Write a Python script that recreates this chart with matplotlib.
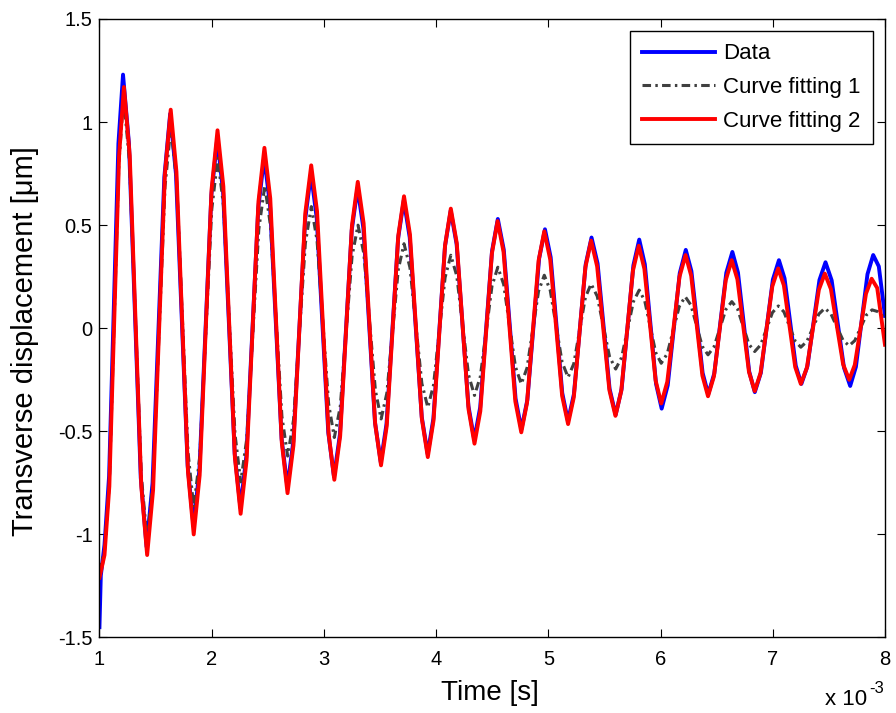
import matplotlib
matplotlib.use('Agg')
import matplotlib.pyplot as plt

plt.rcParams['font.family'] = ['Liberation Sans', 'DejaVu Sans']

# time in units of 1e-3 s
# (per half cycle: extremum, then two points on the flanks)
t_data = [1.0, 1.012, 1.045, 1.086, 1.169,
          1.210, 1.263, 1.368, 1.420, 1.473, 1.578, 1.630, 1.682, 1.786,
          1.838, 1.891, 1.997, 2.050, 2.102, 2.205, 2.256, 2.309, 2.415,
          2.468, 2.520, 2.623, 2.675, 2.728, 2.833, 2.885, 2.936, 3.039,
          3.090, 3.143, 3.248, 3.300, 3.352, 3.455, 3.507, 3.558, 3.661,
          3.712, 3.765, 3.872, 3.925, 3.976, 4.079, 4.130, 4.183, 4.288,
          4.340, 4.393, 4.498, 4.550, 4.603, 4.708, 4.760, 4.813, 4.918,
          4.970, 5.021, 5.124, 5.175, 5.228, 5.333, 5.385, 5.439, 5.546,
          5.600, 5.653, 5.758, 5.810, 5.860, 5.960, 6.010, 6.064, 6.171,
          6.225, 6.275, 6.375, 6.425, 6.479, 6.586, 6.640, 6.690, 6.790,
          6.840, 6.894, 7.001, 7.055, 7.105, 7.205, 7.255, 7.309, 7.416,
          7.470, 7.525, 7.635, 7.690, 7.741, 7.844, 7.895, 7.945, 8.0]
y_data = [-1.45, -1.20, -1.05, -0.716, 0.896,
          1.23, 0.895, -0.725, -1.06, -0.752, 0.732, 1.04, 0.747, -0.667,
          -0.96, -0.685, 0.645, 0.92, 0.658, -0.608, -0.87, -0.621, 0.581,
          0.83, 0.596, -0.536, -0.77, -0.547, 0.527, 0.75, 0.535, -0.505,
          -0.72, -0.515, 0.475, 0.68, 0.485, -0.455, -0.65, -0.464, 0.434,
          0.62, 0.440, -0.430, -0.61, -0.437, 0.397, 0.57, 0.407, -0.377,
          -0.54, -0.383, 0.373, 0.53, 0.381, -0.341, -0.49, -0.348, 0.338,
          0.48, 0.344, -0.314, -0.45, -0.320, 0.310, 0.44, 0.314, -0.294,
          -0.42, -0.295, 0.305, 0.43, 0.310, -0.270, -0.39, -0.277, 0.267,
          0.38, 0.277, -0.217, -0.32, -0.219, 0.269, 0.37, 0.270, -0.210,
          -0.31, -0.216, 0.236, 0.33, 0.242, -0.182, -0.27, -0.184, 0.234,
          0.32, 0.232, -0.192, -0.28, -0.187, 0.262, 0.355, 0.30, 0.06]

t_fit1 = [1.0, 1.045, 1.088, 1.173,
          1.215, 1.268, 1.373, 1.425, 1.478, 1.584, 1.637, 1.688, 1.789,
          1.840, 1.894, 2.001, 2.054, 2.105, 2.208, 2.259, 2.313, 2.420,
          2.473, 2.524, 2.626, 2.677, 2.730, 2.835, 2.888, 2.939, 3.042,
          3.093, 3.146, 3.251, 3.304, 3.356, 3.459, 3.510, 3.561, 3.663,
          3.714, 3.767, 3.873, 3.926, 3.977, 4.080, 4.131, 4.184, 4.289,
          4.342, 4.394, 4.498, 4.550, 4.602, 4.707, 4.759, 4.810, 4.913,
          4.964, 5.017, 5.123, 5.176, 5.227, 5.330, 5.381, 5.436, 5.545,
          5.600, 5.653, 5.758, 5.810, 5.859, 5.957, 6.006, 6.060, 6.167,
          6.220, 6.271, 6.372, 6.423, 6.476, 6.582, 6.635, 6.686, 6.788,
          6.839, 6.892, 6.997, 7.050, 7.100, 7.200, 7.250, 7.304, 7.411,
          7.464, 7.518, 7.626, 7.680, 7.731, 7.834, 7.885, 7.940, 8.0]
y_fit1 = [-1.18, -1.08, -0.758, 0.798,
          1.12, 0.805, -0.715, -1.03, -0.736, 0.686, 0.98, 0.709, -0.599,
          -0.87, -0.622, 0.577, 0.825, 0.595, -0.515, -0.745, -0.535, 0.480,
          0.69, 0.498, -0.428, -0.62, -0.443, 0.413, 0.59, 0.426, -0.366,
          -0.53, -0.379, 0.349, 0.50, 0.362, -0.302, -0.44, -0.315, 0.285,
          0.41, 0.294, -0.268, -0.384, -0.276, 0.246, 0.354, 0.254, -0.226,
          -0.326, -0.235, 0.205, 0.296, 0.213, -0.187, -0.27, -0.193, 0.180,
          0.257, 0.184, -0.165, -0.238, -0.172, 0.149, 0.215, 0.155, -0.137,
          -0.198, -0.142, 0.129, 0.185, 0.133, -0.118, -0.17, -0.123, 0.106,
          0.153, 0.112, -0.088, -0.129, -0.091, 0.091, 0.129, 0.094, -0.078,
          -0.113, -0.081, 0.076, 0.108, 0.079, -0.063, -0.092, -0.064, 0.069,
          0.097, 0.070, -0.058, -0.085, -0.060, 0.064, 0.089, 0.080, 0.048]

t_fit2 = [1.0, 1.045, 1.088, 1.175,
          1.218, 1.270, 1.373, 1.425, 1.478, 1.583, 1.635, 1.686, 1.789,
          1.840, 1.893, 1.999, 2.052, 2.104, 2.207, 2.258, 2.311, 2.417,
          2.470, 2.522, 2.625, 2.676, 2.729, 2.834, 2.887, 2.939, 3.042,
          3.093, 3.145, 3.250, 3.302, 3.354, 3.457, 3.509, 3.560, 3.663,
          3.714, 3.767, 3.873, 3.926, 3.977, 4.080, 4.131, 4.184, 4.289,
          4.342, 4.394, 4.497, 4.548, 4.601, 4.706, 4.759, 4.810, 4.913,
          4.964, 5.017, 5.123, 5.176, 5.227, 5.330, 5.381, 5.435, 5.544,
          5.598, 5.650, 5.754, 5.806, 5.856, 5.956, 6.006, 6.060, 6.169,
          6.223, 6.273, 6.373, 6.423, 6.476, 6.581, 6.634, 6.685, 6.788,
          6.839, 6.891, 6.996, 7.048, 7.099, 7.200, 7.250, 7.304, 7.411,
          7.464, 7.518, 7.627, 7.681, 7.731, 7.831, 7.881, 7.931, 8.0]
y_fit2 = [-1.21, -1.10, -0.767, 0.837,
          1.17, 0.837, -0.767, -1.10, -0.784, 0.744, 1.06, 0.758, -0.698,
          -1.00, -0.713, 0.673, 0.96, 0.688, -0.628, -0.90, -0.640, 0.615,
          0.875, 0.630, -0.555, -0.80, -0.567, 0.557, 0.79, 0.567, -0.512,
          -0.735, -0.523, 0.498, 0.71, 0.509, -0.464, -0.665, -0.474, 0.449,
          0.64, 0.455, -0.440, -0.625, -0.448, 0.403, 0.58, 0.413, -0.393,
          -0.56, -0.402, 0.362, 0.52, 0.370, -0.355, -0.505, -0.362, 0.327,
          0.47, 0.333, -0.328, -0.465, -0.335, 0.295, 0.425, 0.300, -0.300,
          -0.425, -0.304, 0.279, 0.40, 0.288, -0.253, -0.365, -0.260, 0.250,
          0.355, 0.255, -0.230, -0.33, -0.233, 0.233, 0.33, 0.237, -0.212,
          -0.305, -0.218, 0.203, 0.29, 0.208, -0.188, -0.27, -0.192, 0.187,
          0.265, 0.190, -0.175, -0.25, -0.178, 0.168, 0.24, 0.195, -0.08]

labels = ['Data', 'Curve fitting 1', 'Curve fitting 2']

fig = plt.figure(figsize=(8.96, 7.13), dpi=100)
ax = fig.add_axes([0.1110, 0.1059, 0.8767, 0.8675])

ax.plot(t_data, y_data, color='#0000ff', lw=2.8, label=labels[0])
ax.plot(t_fit1, y_fit1, color='#404040', lw=2.2, ls=(0, (2.8, 1.4, 0.8, 1.4)), label=labels[1])
ax.plot(t_fit2, y_fit2, color='#ff0000', lw=2.8, label=labels[2])

ax.set_xlim(1, 8)
ax.set_ylim(-1.5, 1.5)
ax.set_xticks(range(1, 9))
ax.set_yticks([-1.5, -1, -0.5, 0, 0.5, 1, 1.5])
ax.set_yticklabels(['-1.5', '-1', '-0.5', '0', '0.5', '1', '1.5'])
ax.tick_params(direction='in', length=6, width=0.8, top=True, right=True, labelsize=14.5)
ax.tick_params(axis='x', pad=9)
ax.tick_params(axis='y', pad=5)
for s in ax.spines.values():
    s.set_linewidth(1.0)

ax.set_xlabel('Time [s]', fontsize=20)
ax.set_ylabel('Transverse displacement [μm]', fontsize=21)
ax.xaxis.set_label_coords(0.497, -0.068)
ax.yaxis.set_label_coords(-0.0764, 0.48)

leg = ax.legend(loc='upper right', fontsize=16, fancybox=False, edgecolor='black',
                framealpha=1, handlelength=3.3, handletextpad=0.35, labelspacing=0.57,
                borderpad=0.55, borderaxespad=0.55)
leg.get_frame().set_linewidth(1.0)

fig.text(825 / 896, 0.0112, 'x 10', fontsize=16, va='baseline')
fig.text(869 / 896, 0.028, '-3', fontsize=12, va='baseline')

plt.savefig('out.png', dpi=100)
